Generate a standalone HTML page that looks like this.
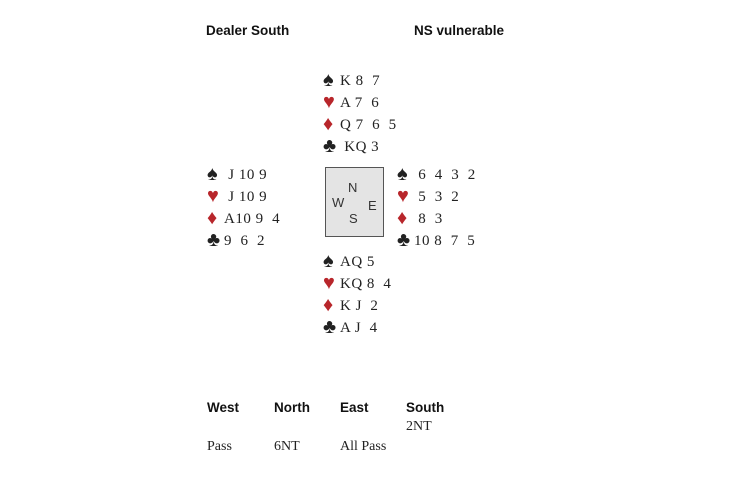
<!DOCTYPE html>
<html><head><meta charset="utf-8"><style>
body{margin:0;width:730px;height:486px;background:#fff;position:relative;overflow:hidden;font-family:"Liberation Serif",serif;color:#222}
.a{position:absolute;white-space:pre;line-height:1}
.h{font-family:"Liberation Sans",sans-serif;font-weight:bold;font-size:13.5px;color:#111}
.c{font-size:15px;letter-spacing:0.5px}
.r{color:#b8262b}
.s{display:inline-block;width:17px;font-size:20px;line-height:15px;vertical-align:-1px}
.box{position:absolute;left:325px;top:167px;width:57px;height:68px;border:1.5px solid #555;background:#e4e4e4}
.d{position:absolute;font-family:"Liberation Sans",sans-serif;font-size:13px;color:#333}
.b{font-size:14px}
</style></head><body>
<div class="a h" style="left:206px;top:24px">Dealer South</div>
<div class="a h" style="left:414px;top:24px">NS vulnerable</div>

<div class="a c" style="left:323px;top:73px"><span class="s">♠</span>K 8  7</div>
<div class="a c" style="left:323px;top:95px"><span class="s r">♥</span>A 7  6</div>
<div class="a c" style="left:323px;top:117px"><span class="s r">♦</span>Q 7  6  5</div>
<div class="a c" style="left:323px;top:139px"><span class="s">♣</span> KQ 3</div>

<div class="a c" style="left:207px;top:167px"><span class="s">♠</span> J 10 9</div>
<div class="a c" style="left:207px;top:189px"><span class="s r">♥</span> J 10 9</div>
<div class="a c" style="left:207px;top:211px"><span class="s r">♦</span>A10 9  4</div>
<div class="a c" style="left:207px;top:233px"><span class="s">♣</span>9  6  2</div>

<div class="a c" style="left:397px;top:167px"><span class="s">♠</span> 6  4  3  2</div>
<div class="a c" style="left:397px;top:189px"><span class="s r">♥</span> 5  3  2</div>
<div class="a c" style="left:397px;top:211px"><span class="s r">♦</span> 8  3</div>
<div class="a c" style="left:397px;top:233px"><span class="s">♣</span>10 8  7  5</div>

<div class="box">
<div class="d" style="left:22px;top:12px">N</div>
<div class="d" style="left:6px;top:27px">W</div>
<div class="d" style="left:42px;top:30px">E</div>
<div class="d" style="left:23px;top:43px">S</div>
</div>

<div class="a c" style="left:323px;top:254px"><span class="s">♠</span>AQ 5</div>
<div class="a c" style="left:323px;top:276px"><span class="s r">♥</span>KQ 8  4</div>
<div class="a c" style="left:323px;top:298px"><span class="s r">♦</span>K J  2</div>
<div class="a c" style="left:323px;top:320px"><span class="s">♣</span>A J  4</div>

<div class="a h" style="left:207px;top:401px">West</div>
<div class="a h" style="left:274px;top:401px">North</div>
<div class="a h" style="left:340px;top:401px">East</div>
<div class="a h" style="left:406px;top:401px">South</div>
<div class="a b" style="left:406px;top:420px">2NT</div>
<div class="a b" style="left:207px;top:440px">Pass</div>
<div class="a b" style="left:274px;top:440px">6NT</div>
<div class="a b" style="left:340px;top:440px">All Pass</div>
</body></html>
